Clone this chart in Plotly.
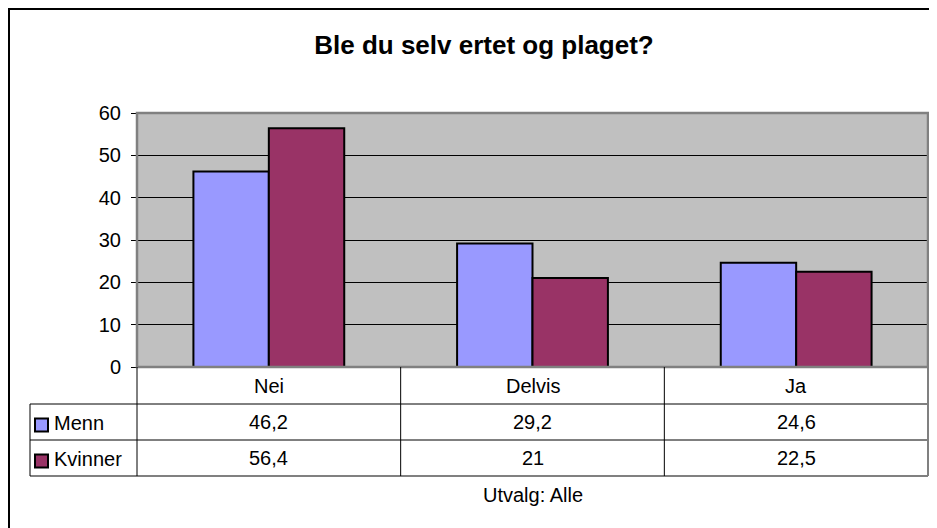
import plotly.graph_objects as go

# ---- data ----
categories = ["Nei", "Delvis", "Ja"]
series_names = ["Menn", "Kvinner"]
menn = [46.2, 29.2, 24.6]
kvinner = [56.4, 21, 22.5]
y_ticks = [0, 10, 20, 30, 40, 50, 60]
title_text = "Ble du selv ertet og plaget?"
x_title = "Utvalg: Alle"

series_values = [menn, kvinner]
series_colors = ["#9999FF", "#993366"]

# ---- layout geometry (screen pixels; page body adds an 8px offset) ----
OX, OY = 8, 8
W, H = 937, 528
L, R, T, B = 137 - OX, 928 - OX, 113 - OY, 367 - OY
FONT = "Liberation Sans, Arial, sans-serif"
FS = 20


def py(Y):
    return (B - (Y - OY)) / (B - T)


def px(X):
    return ((X - OX) - L) / (R - L)


def fmt(v):
    return f"{v:g}".replace(".", ",")


fig = go.Figure()
for name, vals, col in zip(series_names, series_values, series_colors):
    fig.add_trace(go.Bar(
        x=categories, y=vals, name=name,
        marker=dict(color=col, line=dict(color="#000000", width=2)),
        showlegend=False,
    ))

row_lines = [404, 440, 476]
row_centers = [386, 422, 458]

shapes = []
# outer chart frame
shapes.append(dict(type="rect", xref="paper", yref="paper",
                   x0=px(9), x1=px(960), y0=py(9), y1=py(560),
                   line=dict(color="#000000", width=2), layer="below"))
# plot area border
shapes.append(dict(type="rect", xref="paper", yref="paper", x0=0, x1=1, y0=0, y1=1,
                   line=dict(color="#808080", width=2.5), layer="above"))
# table horizontal lines
for Y in row_lines[:-1]:
    shapes.append(dict(type="line", xref="paper", yref="paper",
                       x0=px(30), x1=1, y0=py(Y), y1=py(Y),
                       line=dict(color="#000000", width=1)))
shapes.append(dict(type="line", xref="paper", yref="paper",
                   x0=px(30), x1=1, y0=py(row_lines[-1]), y1=py(row_lines[-1]),
                   line=dict(color="#808080", width=2)))
# table vertical lines
shapes.append(dict(type="line", xref="paper", yref="paper",
                   x0=px(30), x1=px(30), y0=py(row_lines[0]), y1=py(row_lines[-1]),
                   line=dict(color="#000000", width=1)))
shapes.append(dict(type="line", xref="paper", yref="paper",
                   x0=0, x1=0, y0=0, y1=py(row_lines[-1]),
                   line=dict(color="#000000", width=1)))
for i in range(len(categories) - 1):
    shapes.append(dict(type="line", xref="x", yref="paper",
                       x0=i + 0.5, x1=i + 0.5, y0=0, y1=py(row_lines[-1]),
                       line=dict(color="#000000", width=1)))
shapes.append(dict(type="line", xref="paper", yref="paper",
                   x0=1, x1=1, y0=0, y1=py(row_lines[-1]),
                   line=dict(color="#808080", width=2)))

annotations = []
for c in categories:
    annotations.append(dict(x=c, y=py(row_centers[0]), xref="x", yref="paper",
                            text=c, showarrow=False, xanchor="center", yanchor="middle",
                            font=dict(size=FS, color="#000000")))
for r, (name, vals, col) in enumerate(zip(series_names, series_values, series_colors)):
    Yc = row_centers[r + 1]
    for c, v in zip(categories, vals):
        annotations.append(dict(x=c, y=py(Yc), xref="x", yref="paper",
                                text=fmt(v), showarrow=False, xanchor="center",
                                yanchor="middle", font=dict(size=FS, color="#000000")))
    # legend key
    shapes.append(dict(type="rect", xref="paper", yref="paper",
                       x0=px(35), x1=px(48), y0=py(Yc + 3 - 6.5), y1=py(Yc + 3 + 6.5),
                       fillcolor=col, line=dict(color="#000000", width=2)))
    annotations.append(dict(x=px(52), y=py(Yc + 1), xref="paper", yref="paper",
                            text=name, showarrow=False, xanchor="left", yanchor="middle",
                            font=dict(size=FS, color="#000000")))

annotations.append(dict(x=0.5, y=py(495), xref="paper", yref="paper", text=x_title,
                        showarrow=False, xanchor="center", yanchor="middle",
                        font=dict(size=FS, color="#000000")))

fig.update_layout(
    width=W, height=H,
    margin=dict(l=L, r=W - R, t=T, b=H - B, autoexpand=False),
    paper_bgcolor="#FFFFFF", plot_bgcolor="#C0C0C0",
    font=dict(family=FONT, size=FS, color="#000000"),
    title=dict(text=f"<b>{title_text}</b>", x=(484 - OX) / W, xref="container",
               xanchor="center", y=1 - (45 - OY) / H, yref="container", yanchor="middle",
               font=dict(size=26, family=FONT, color="#000000")),
    barmode="group", bargap=0.428, bargroupgap=0,
    xaxis=dict(showticklabels=False, showgrid=False, zeroline=False,
               showline=True, linecolor="#000000", linewidth=1, ticks=""),
    yaxis=dict(range=[0, 60], tickvals=y_ticks, showgrid=True, gridcolor="#000000",
               gridwidth=1, zeroline=False, showline=True, linecolor="#000000",
               linewidth=1, ticks="outside", ticklen=5, tickcolor="#000000",
               ticklabelstandoff=6, tickfont=dict(size=FS)),
    shapes=shapes, annotations=annotations,
)

fig.write_html("out.html")
